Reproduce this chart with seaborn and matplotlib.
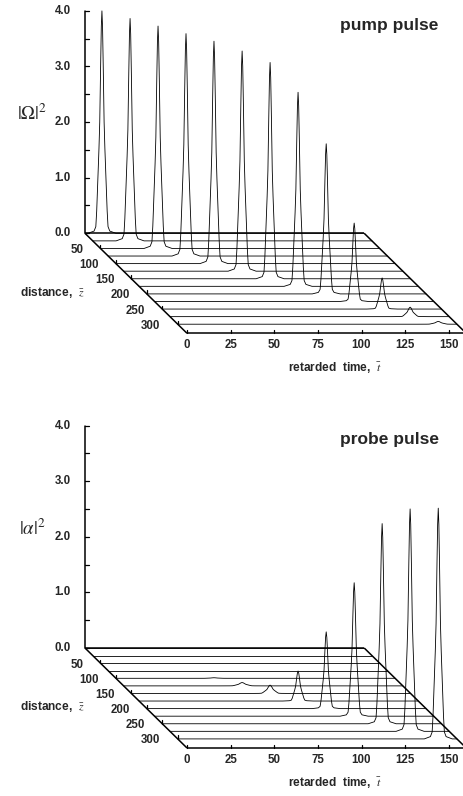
import numpy as np
import pandas as pd
import matplotlib
matplotlib.use("Agg")
import matplotlib.pyplot as plt
import seaborn as sns

# distances of the drawn traces and the pulse peaks
z_rows = [0, 25, 50, 75, 100, 125, 150, 175, 200, 225, 250, 275, 300]
peak_t = [9.7, 21.4, 33.0, 44.6, 56.2, 67.9, 79.5, 91.1, 102.8, 114.4, 126.0, 137.6, 149.3]
pump_peak = [4.0, 4.0, 4.0, 4.0, 4.0, 3.96, 3.89, 3.49, 2.70, 1.41, 0.56, 0.17, 0.05]
probe_peak = [0.0, 0.0, 0.0, 0.0, 0.01, 0.06, 0.15, 0.54, 1.38, 2.4, 3.6, 4.0, 4.15]
pump_width = [1.0, 1.0, 1.0, 1.0, 1.0, 1.0, 1.0, 1.0, 1.0, 1.0, 1.1, 1.3, 1.5]
probe_width = [1.0, 1.0, 1.0, 1.0, 1.6, 1.6, 1.4, 1.1, 1.0, 1.0, 1.0, 1.0, 1.0]

# normalised pulse shape (offset in t, value)
profile_dt = [-8.0, -4.5, -3.5, -3.0, -2.3, -1.7, -1.25, -0.75, -0.35, 0.0,
              0.35, 0.75, 1.25, 1.7, 2.3, 3.0, 3.5, 4.5, 8.0]
profile_val = [0.0, 0.01, 0.03, 0.1, 0.25, 0.38, 0.5, 0.75, 0.93, 1.0,
               0.93, 0.75, 0.5, 0.38, 0.25, 0.1, 0.03, 0.01, 0.0]

t_ticks = [0, 25, 50, 75, 100, 125, 150]
z_ticks = [50, 100, 150, 200, 250, 300]
h_ticks = [0.0, 1.0, 2.0, 3.0, 4.0]
T_MAX = 160
Z_MAX = 330

# oblique projection (pixels per unit)
SX, SY = 1.745, 55.6
ZX_PX, ZY_PX = 102 / Z_MAX, 100 / Z_MAX
ZX, ZY = ZX_PX / SX, ZY_PX / SY


def proj(t, z, h=0.0):
    return np.asarray(t) + np.asarray(z) * ZX, np.asarray(h) - np.asarray(z) * ZY


def build_frame(peaks, widths):
    recs = []
    for z, tp, a, w in zip(z_rows, peak_t, peaks, widths):
        ts = [0.0] + [tp + d * w for d in profile_dt] + [T_MAX]
        hs = [0.0] + [a * v for v in profile_val] + [0.0]
        for t, h in zip(ts, hs):
            if 0 <= t <= T_MAX:
                recs.append((z, t, h))
    df = pd.DataFrame(recs, columns=["z", "t", "h"])
    df["X"], df["Y"] = proj(df["t"], df["z"], df["h"])
    return df


sns.set_style("white")
plt.rcParams["font.family"] = ["Liberation Sans", "DejaVu Sans"]
plt.rcParams["mathtext.fontset"] = "stix"

fig = plt.figure(figsize=(4.64, 7.96), dpi=100)

panels = [
    dict(rect=[0, 0.5, 1, 0.5], y0=233.3, top=0, peaks=pump_peak, widths=pump_width,
         ylab=r"$|\Omega|^2$", title="pump pulse"),
    dict(rect=[0, 0, 1, 0.5], y0=648.0, top=398, peaks=probe_peak, widths=probe_width,
         ylab=r"$|\alpha|^2$", title="probe pulse"),
]

fw = 1.1
for p in panels:
    ax = fig.add_axes(p["rect"])
    y0 = p["y0"]
    ax.set_xlim(-85 / SX, (464 - 85) / SX)
    ax.set_ylim((y0 - (p["top"] + 398)) / SY, (y0 - p["top"]) / SY)
    ax.axis("off")

    def pix(px, py):
        return (px - 85) / SX, (y0 - py) / SY

    df = build_frame(p["peaks"], p["widths"])
    sns.lineplot(data=df, x="X", y="Y", units="z", estimator=None, sort=False,
                 color="black", lw=0.6, ax=ax, legend=False)

    # box edges
    for (t0, z0), (t1, z1) in [((0, 0), (T_MAX, 0)), ((0, Z_MAX), (T_MAX, Z_MAX)),
                               ((0, 0), (0, Z_MAX)), ((T_MAX, 0), (T_MAX, Z_MAX))]:
        xs, ys = proj([t0, t1], [z0, z1])
        ax.plot(xs, ys, color="black", lw=fw, solid_capstyle="butt", clip_on=False)
    ax.plot([0, 0], [0, 4.0], color="black", lw=fw, clip_on=False)

    # vertical axis ticks
    for h in np.arange(0, 4.01, 0.5):
        ax.plot([0, 4 / SX], [h, h], color="black", lw=0.9)
    for h in h_ticks:
        ax.text(-8.2, h, f"{h:.1f}", ha="right", va="center", fontsize=8.3, fontweight="bold")

    # distance ticks
    for z in z_ticks:
        x, y = proj(0, z)
        ax.plot([x, x], [y, y + 3.5 / SY], color="black", lw=0.9)
        ax.text(x - 9.8, y - 1.5 / SY, f"{z}", ha="right", va="center",
                fontsize=8.3, fontweight="bold")

    # time ticks
    for t in t_ticks:
        x, y = proj(t, Z_MAX)
        ax.plot([x, x], [y, y + 3.5 / SY], color="black", lw=0.9)
        ax.text(x, y - 12 / SY, f"{t}", ha="center", va="center",
                fontsize=8.3, fontweight="bold")

    ax.text(*pix(85, y0 + 59), r"distance,  $\bar{z}$", ha="right", va="center",
            fontsize=8.6, fontweight="bold")
    ax.text(*pix(335, y0 + 135), r"retarded  time,  $\bar{t}$", ha="center", va="center",
            fontsize=8.6, fontweight="bold")
    ax.text(*pix(32, y0 - 119), p["ylab"], ha="center", va="center", fontsize=13.5)
    ax.text(*pix(389, y0 - 208), p["title"], ha="center", va="center",
            fontsize=12.5, fontweight="bold")

fig.savefig("out.png", dpi=100)
